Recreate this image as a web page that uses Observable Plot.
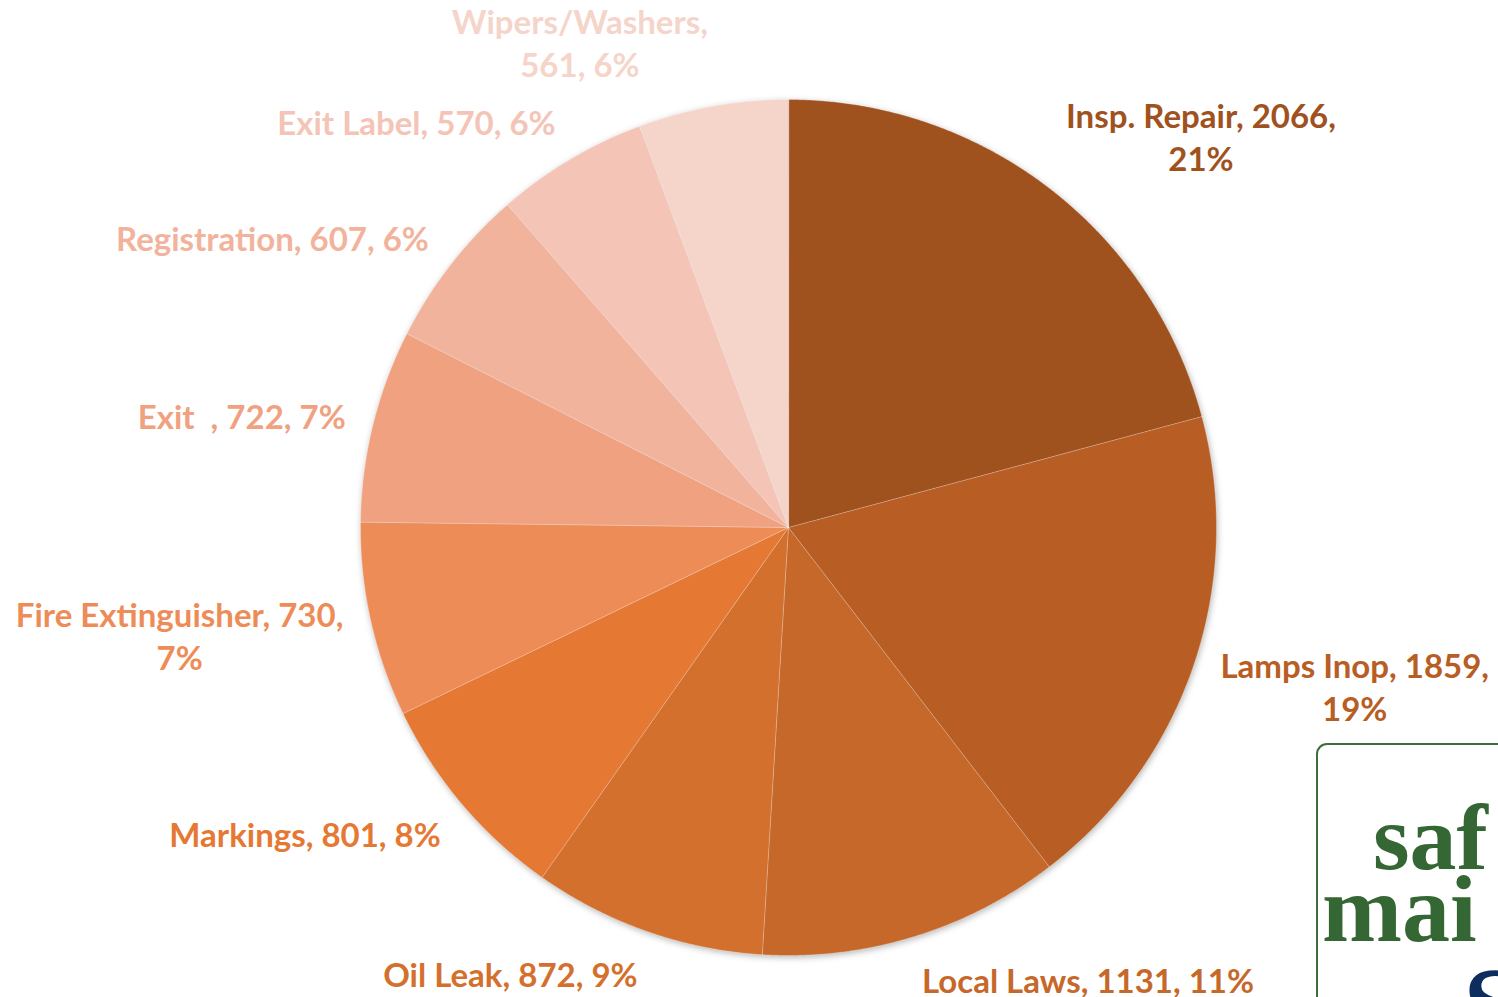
<!DOCTYPE html>
<html>
<head>
<meta charset="utf-8">
<script src="https://cdn.jsdelivr.net/npm/d3@7"></script>
<script src="https://cdn.jsdelivr.net/npm/@observablehq/plot@0.6"></script>
<style>
  html, body { margin: 0; padding: 0; background: #ffffff; }
  #wrap { position: relative; width: 1498px; height: 997px; overflow: hidden; background: #fff; }
  #chart { position: absolute; left: 0; top: 0; }
  #logo { position: absolute; left: 0; top: 0; pointer-events: none; }
</style>
</head>
<body>
<div id="wrap">
  <div id="chart"></div>
  <svg id="logo" width="1498" height="997" viewBox="0 0 1498 997">
    <rect x="1317" y="744" width="260" height="320" rx="10" ry="10" fill="none" stroke="#3d6e3a" stroke-width="2"></rect>
    <text x="1373" y="869" font-family="Liberation Serif" font-weight="bold" font-size="94" fill="#356734">saf</text>
    <text x="1322" y="941" font-family="Liberation Serif" font-weight="bold" font-size="96" fill="#356734">mai</text>
    <text x="1463" y="1045" font-family="Liberation Serif" font-weight="bold" font-size="112" fill="#0d2d5e">S</text>
  </svg>
</div>
<script>
// ---- data ----
const categories = ["Insp. Repair", "Lamps Inop", "Local Laws", "Oil Leak", "Markings",
  "Fire Extinguisher", "Exit  ", "Registration", "Exit Label", "Wipers/Washers"];
const values = [2066, 1859, 1131, 872, 801, 730, 722, 607, 570, 561];
const colors = ["#A0521E", "#B85D24", "#C5682A", "#D4702D", "#E57833",
  "#EE8C57", "#F0A17F", "#F2B39D", "#F4C4B7", "#F5D4CA"];
// where the data label wraps onto a second line
const labelBreak = ["value", "value", null, null, null, "value", null, null, null, "name"];

// ---- layout ----
const W = 1498, H = 997;
const cx = 788, cy = 527, R = 428;
const labelDist = 456;
const fontSize = 33, lineHeightPx = 43, singleLineH = 32;
const fontFamily = "Lato";

const data = categories.map((name, i) => ({name, value: values[i], color: colors[i], brk: labelBreak[i]}));
const total = d3.sum(values);
const arcs = d3.pie().sort(null).value(d => d.value)(data);

// slice outlines as closed polygons (center + arc)
const slicePts = [];
for (const a of arcs) {
  const steps = Math.max(8, Math.ceil((a.endAngle - a.startAngle) / (Math.PI / 720)));
  slicePts.push({name: a.data.name, color: a.data.color, x: 0, y: 0});
  for (let i = 0; i <= steps; i++) {
    const t = a.startAngle + (a.endAngle - a.startAngle) * i / steps;
    slicePts.push({name: a.data.name, color: a.data.color, x: R * Math.sin(t), y: R * Math.cos(t)});
  }
}

// text measurement for label block widths
const ctx = document.createElement("canvas").getContext("2d");
ctx.font = `bold ${fontSize}px ${fontFamily}`;
const measure = s => ctx.measureText(s).width;

// data labels, Excel-style "outside end", lines centred within the block
const labels = arcs.map(a => {
  const d = a.data;
  const mid = (a.startAngle + a.endAngle) / 2;
  const pct = Math.round(d.value / total * 100) + "%";
  let text;
  if (d.brk === "value") text = `${d.name}, ${d.value},\n${pct}`;
  else if (d.brk === "name") text = `${d.name},\n${d.value}, ${pct}`;
  else text = `${d.name}, ${d.value}, ${pct}`;
  const lines = text.split("\n");
  const w = d3.max(lines, measure);
  const h = singleLineH + (lines.length - 1) * lineHeightPx;
  const sx = Math.sin(mid) >= 0 ? 1 : -1;
  return {
    text, color: d.color,
    x: labelDist * Math.sin(mid) + sx * w / 2,
    y: Math.cos(mid) * (labelDist + h / 2)
  };
});

const plot = Plot.plot({
  width: W, height: H,
  margin: 0,
  style: {background: "transparent", whiteSpace: "pre", overflow: "visible"},
  x: {domain: [-R, R], range: [cx - R, cx + R], axis: null},
  y: {domain: [-R, R], range: [cy + R, cy - R], axis: null},
  color: {type: "identity"},
  marks: [
    Plot.line(slicePts, {x: "x", y: "y", z: "name", fill: "color", stroke: "#ffffff",
      strokeOpacity: 0.35, strokeWidth: 0.8, curve: "linear-closed"}),
    Plot.text(labels, {
      x: "x", y: "y", text: "text", fill: "color", textAnchor: "middle",
      fontFamily, fontWeight: "bold", fontSize,
      lineHeight: lineHeightPx / fontSize
    })
  ]
});

const g = plot.querySelector('g[aria-label="line"]');
if (g) g.style.filter = "drop-shadow(1px 2px 3px rgba(0,0,0,0.28))";
document.getElementById("chart").appendChild(plot);
</script>
</body>
</html>
